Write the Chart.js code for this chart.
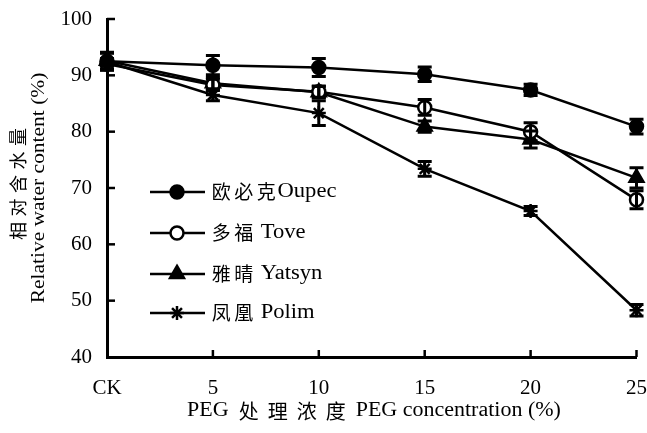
<!DOCTYPE html>
<html><head><meta charset="utf-8">
<script src="https://cdn.jsdelivr.net/npm/chart.js@4/dist/chart.umd.min.js"></script>
<style>html,body{margin:0;padding:0;background:#fff}#w{width:647px;height:433px;position:relative}</style>
</head><body><div id="w"><canvas id="c"></canvas></div>
<script>
const categories = ['CK', '5', '10', '15', '20', '25'];
const seriesNames = ['欧必克Oupec', '多福 Tove', '雅晴 Yatsyn', '凤凰 Polim'];
const oupec  = [92.5, 91.8, 91.4, 90.2, 87.4, 80.9];
const tove   = [92.0, 88.3, 87.1, 84.3, 80.0, 67.9];
const yatsyn = [92.6, 88.6, 87.0, 80.9, 78.6, 71.8];
const polim  = [92.4, 86.5, 83.3, 73.4, 65.9, 48.3];
const oupecErr  = [1.5, 1.7, 1.6, 1.3, 1.0, 1.3];
const toveErr   = [1.0, 1.0, 1.0, 1.4, 1.6, 1.6];
const yatsynErr = [1.5, 1.0, 1.0, 1.0, 1.5, 1.8];
const polimErr  = [1.5, 1.0, 2.2, 1.3, 0.8, 1.0];
const yTicks = [40, 50, 60, 70, 80, 90, 100];
const yTitle = ['相对含水量', 'Relative water content (%)'];
const xTitle = 'PEG 处理浓度 PEG concentration (%)';

const LATIN = "'Liberation Serif', serif";
const CJK = "'Noto Sans CJK SC', sans-serif";
const styles = [
  {pointStyle: 'circle', fill: '#000', r: 6.5},
  {pointStyle: 'circle', fill: '#fff', r: 6.5},
  {pointStyle: 'triangle', fill: '#000', r: 8},
  {pointStyle: 'star', fill: '#000', r: 7}
];
const values = [oupec, tove, yatsyn, polim];
const errs = [oupecErr, toveErr, yatsynErr, polimErr];

function isCJK(ch) { return ch.charCodeAt(0) > 0x2e80; }
function runs(text) {
  const out = [];
  for (const ch of text) {
    const c = isCJK(ch);
    if (out.length && out[out.length - 1].cjk === c) out[out.length - 1].t += ch;
    else out.push({cjk: c, t: ch});
  }
  return out;
}
function richWidth(ctx, text, o) {
  let w = 0;
  for (const r of runs(text)) {
    if (r.cjk) w += [...r.t].length * o.cadv;
    else { ctx.font = o.size + 'px ' + LATIN; w += ctx.measureText(r.t).width * o.sx; }
  }
  return w;
}
function drawRich(ctx, text, x, y, o, align) {
  ctx.save();
  ctx.fillStyle = '#000';
  ctx.textBaseline = 'middle';
  ctx.textAlign = 'left';
  let cx = x;
  if (align === 'center') cx = x - richWidth(ctx, text, o) / 2;
  for (const r of runs(text)) {
    if (r.cjk) {
      ctx.font = o.csize + 'px ' + CJK;
      for (const ch of r.t) {
        const gw = ctx.measureText(ch).width;
        ctx.fillText(ch, cx + (o.cadv - gw) / 2, y);
        cx += o.cadv;
      }
    } else {
      ctx.font = o.size + 'px ' + LATIN;
      const w = ctx.measureText(r.t).width;
      ctx.save();
      ctx.translate(cx, y);
      ctx.scale(o.sx, 1);
      ctx.fillText(r.t, 0, 0);
      ctx.restore();
      cx += w * o.sx;
    }
  }
  ctx.restore();
}

function drawMarker(ctx, st, x, y) {
  const r = st.r;
  ctx.save();
  ctx.strokeStyle = '#000';
  ctx.fillStyle = st.fill;
  ctx.lineWidth = 2.5;
  ctx.beginPath();
  if (st.pointStyle === 'circle') {
    ctx.arc(x, y, r, 0, Math.PI * 2);
    ctx.fill(); ctx.stroke();
  } else if (st.pointStyle === 'triangle') {
    ctx.moveTo(x, y - r);
    ctx.lineTo(x + r * 0.87, y + r * 0.5);
    ctx.lineTo(x - r * 0.87, y + r * 0.5);
    ctx.closePath();
    ctx.fill(); ctx.stroke();
  } else {
    for (let k = 0; k < 4; k++) {
      const a = k * Math.PI / 4;
      ctx.moveTo(x - r * Math.cos(a), y - r * Math.sin(a));
      ctx.lineTo(x + r * Math.cos(a), y + r * Math.sin(a));
    }
    ctx.stroke();
  }
  ctx.restore();
}

const extras = {
  id: 'extras',
  afterDatasetsDraw(chart) {
    const ctx = chart.ctx, xs = chart.scales.x, ys = chart.scales.y;
    ctx.save();
    ctx.strokeStyle = '#000';
    ctx.lineWidth = 3;
    values.forEach((vals, d) => {
      vals.forEach((v, i) => {
        const x = xs.getPixelForValue(i);
        const y1 = ys.getPixelForValue(v + errs[d][i]);
        const y2 = ys.getPixelForValue(v - errs[d][i]);
        ctx.beginPath();
        ctx.moveTo(x, y1); ctx.lineTo(x, y2);
        ctx.moveTo(x - 7, y1); ctx.lineTo(x + 7, y1);
        ctx.moveTo(x - 7, y2); ctx.lineTo(x + 7, y2);
        ctx.stroke();
      });
    });
    ctx.lineWidth = 2.5;
    for (let i = 1; i < categories.length; i++) {
      const x = xs.getPixelForValue(i);
      ctx.beginPath();
      ctx.moveTo(x, ys.bottom); ctx.lineTo(x, ys.bottom - 7);
      ctx.stroke();
    }
    yTicks.forEach(v => {
      if (v === yTicks[0]) return;
      const y = ys.getPixelForValue(v);
      ctx.beginPath();
      ctx.moveTo(xs.left, y); ctx.lineTo(xs.left + 8, y);
      ctx.stroke();
    });
    const ly = [192, 233, 274, 313];
    const lo = {size: 20, sx: 1.13, csize: 19, cadv: 22.5};
    seriesNames.forEach((name, d) => {
      const y = ly[d];
      ctx.lineWidth = 2.5;
      ctx.beginPath();
      ctx.moveTo(150, y); ctx.lineTo(205, y);
      ctx.stroke();
      drawMarker(ctx, styles[d], 177, y);
      drawRich(ctx, name, 210, y, lo, 'left');
    });
    drawRich(ctx, xTitle, 374, 411, {size: 20, sx: 1.1, csize: 20, cadv: 29}, 'center');
    ctx.save();
    ctx.translate(18, 184);
    ctx.rotate(-Math.PI / 2);
    drawRich(ctx, yTitle[0], 0, 0, {size: 19, sx: 1.13, csize: 18, cadv: 23.5}, 'center');
    ctx.restore();
    ctx.save();
    ctx.translate(39, 188);
    ctx.rotate(-Math.PI / 2);
    drawRich(ctx, yTitle[1], 0, 0, {size: 19, sx: 1.13, csize: 18, cadv: 23}, 'center');
    ctx.restore();
    ctx.restore();
  }
};

new Chart(document.getElementById('c'), {
  type: 'line',
  data: {
    labels: categories,
    datasets: values.map((vals, d) => ({
      label: seriesNames[d],
      data: vals,
      borderColor: '#000',
      borderWidth: 2.5,
      backgroundColor: styles[d].fill,
      pointBackgroundColor: styles[d].fill,
      pointBorderColor: '#000',
      pointBorderWidth: 2.5,
      pointStyle: styles[d].pointStyle,
      pointRadius: styles[d].r,
      tension: 0,
      clip: false
    }))
  },
  options: {
    responsive: true,
    maintainAspectRatio: false,
    animation: false,
    events: [],
    layout: {padding: {left: 0, top: 19, right: 9, bottom: 0}},
    plugins: {legend: {display: false}, tooltip: {enabled: false}},
    scales: {
      x: {
        type: 'category',
        offset: false,
        grid: {display: true, drawOnChartArea: false, drawTicks: false},
        border: {display: true, color: '#000', width: 3},
        ticks: {color: '#000', font: {family: LATIN, size: 21}, padding: 19, maxRotation: 0, autoSkip: false},
        afterFit(s) { s.height = 76; s.paddingLeft = 0; s.paddingRight = 0; }
      },
      y: {
        min: 40, max: 100,
        afterBuildTicks(s) { s.ticks = yTicks.map(v => ({value: v})); },
        grid: {display: true, drawOnChartArea: false, drawTicks: false},
        border: {display: true, color: '#000', width: 3},
        ticks: {color: '#000', font: {family: LATIN, size: 21}, padding: 15},
        afterFit(s) { s.width = 107; s.paddingTop = 0; s.paddingBottom = 0; }
      }
    }
  },
  plugins: [extras]
});
</script>
</body></html>
